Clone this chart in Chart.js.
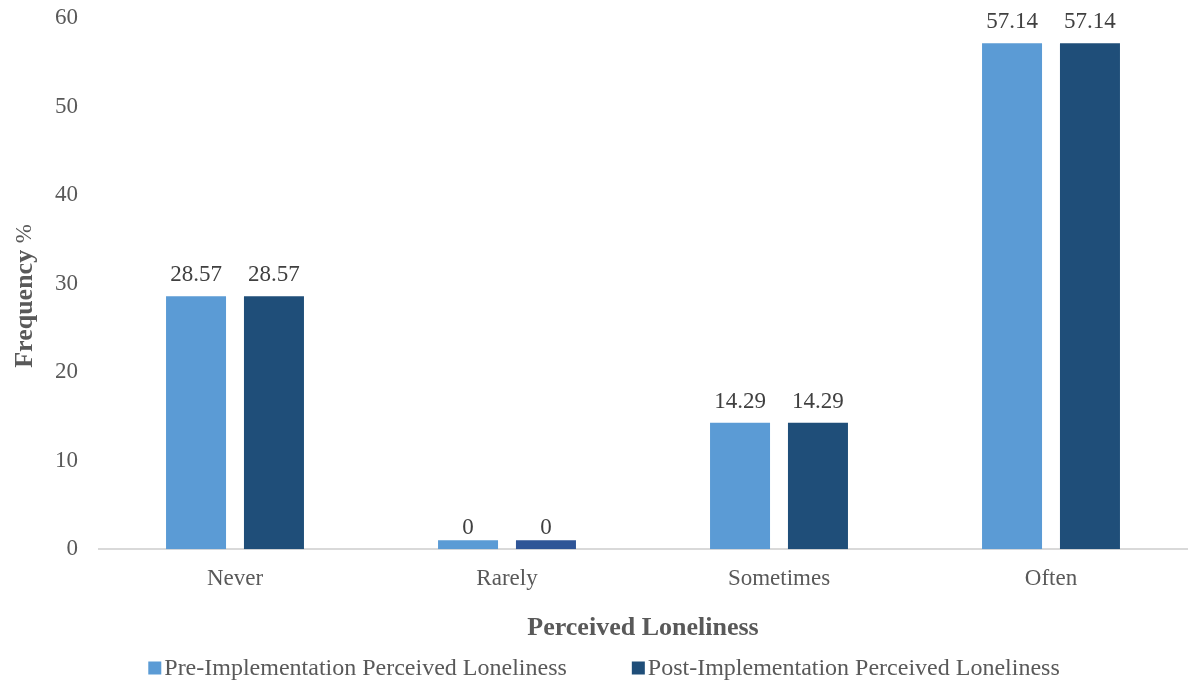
<!DOCTYPE html>
<html>
<head>
<meta charset="utf-8">
<script src="https://cdn.jsdelivr.net/npm/chart.js@4/dist/chart.umd.min.js"></script>
<style>
  body { margin: 0; background: #fff; }
  #wrap { width: 1188px; height: 686px; }
</style>
</head>
<body>
<div id="wrap"><canvas id="lonelinessChart" width="1188" height="686"></canvas></div>
<script>
const categories = ['Never', 'Rarely', 'Sometimes', 'Often'];
const preValues = [28.57, 0, 14.29, 57.14];
const postValues = [28.57, 0, 14.29, 57.14];
const yTicks = [0, 10, 20, 30, 40, 50, 60];

const FONT = "'Liberation Serif', 'Times New Roman', serif";
const GREY = '#595959';
const PRE_COLOR = '#5B9BD5';
const POST_COLOR = '#1F4E79';

// value labels above each bar, placed from the value itself
const barValues = {
    id: 'barValues',
    afterDatasetsDraw(chart) {
        const ctx = chart.ctx;
        const yScale = chart.scales.y;
        ctx.save();
        ctx.font = '23px ' + FONT;
        ctx.fillStyle = '#404040';
        ctx.textAlign = 'center';
        ctx.textBaseline = 'alphabetic';
        chart.data.datasets.forEach((ds, i) => {
            chart.getDatasetMeta(i).data.forEach((bar, j) => {
                const y = yScale.getPixelForValue(ds.data[j]);
                ctx.fillText(String(ds.data[j]), bar.x, y - 15);
            });
        });
        ctx.restore();
    }
};

// y title: bold "Frequency" followed by a regular "%"
const yTitle = {
    id: 'yTitle',
    afterDraw(chart) {
        const ctx = chart.ctx;
        const boldFont = 'bold 26px ' + FONT;
        const normFont = '23px ' + FONT;
        ctx.save();
        ctx.font = boldFont;
        const w1 = ctx.measureText('Frequency ').width;
        ctx.font = normFont;
        const w2 = ctx.measureText('%').width;
        const total = w1 + w2;
        ctx.translate(25, 296);
        ctx.rotate(-Math.PI / 2);
        ctx.textBaseline = 'middle';
        ctx.textAlign = 'left';
        ctx.fillStyle = GREY;
        ctx.font = boldFont;
        ctx.fillText('Frequency ', -total / 2, 0);
        ctx.font = normFont;
        ctx.fillText('%', -total / 2 + w1, 0);
        ctx.restore();
    }
};

// legend row along the bottom: small square, tight gap, then the label
const bottomLegend = {
    id: 'bottomLegend',
    afterDraw(chart) {
        const ctx = chart.ctx;
        const box = 13, gap = 3, itemGap = 65, y = 668;
        const items = chart.data.datasets.map((ds, i) => ({
            text: ds.label,
            color: i === 0 ? PRE_COLOR : POST_COLOR
        }));
        ctx.save();
        ctx.font = '24px ' + FONT;
        ctx.textBaseline = 'middle';
        ctx.textAlign = 'left';
        const widths = items.map(it => box + gap + ctx.measureText(it.text).width);
        const total = widths.reduce((a, b) => a + b, 0) + itemGap * (items.length - 1);
        let x = chart.width / 2 + 10 - total / 2;
        items.forEach((it, i) => {
            ctx.fillStyle = it.color;
            ctx.fillRect(x, y - box / 2, box, box);
            ctx.fillStyle = GREY;
            ctx.fillText(it.text, x + box + gap, y + 1);
            x += widths[i] + itemGap;
        });
        ctx.restore();
    }
};

new Chart(document.getElementById('lonelinessChart'), {
    type: 'bar',
    data: {
        labels: categories,
        datasets: [{
            label: 'Pre-Implementation Perceived Loneliness',
            data: preValues,
            backgroundColor: PRE_COLOR,
            barPercentage: 0.77,
            categoryPercentage: 0.573,
            minBarLength: 9
        }, {
            label: 'Post-Implementation Perceived Loneliness',
            data: postValues,
            backgroundColor: [POST_COLOR, '#2F5597', POST_COLOR, POST_COLOR],
            barPercentage: 0.77,
            categoryPercentage: 0.573,
            minBarLength: 9
        }]
    },
    options: {
        responsive: false,
        animation: false,
        layout: { padding: { left: 34, top: 0, right: 1, bottom: 42 } },
        plugins: {
            legend: { display: false },
            tooltip: { enabled: false }
        },
        scales: {
            x: {
                grid: { display: false, drawTicks: false },
                border: { color: '#D9D9D9', width: 2 },
                ticks: {
                    color: GREY,
                    font: { family: FONT, size: 23 },
                    padding: 16
                },
                title: {
                    display: true,
                    text: 'Perceived Loneliness',
                    color: GREY,
                    font: { family: FONT, size: 26, weight: 'bold' },
                    padding: { top: 4, bottom: 0 }
                }
            },
            y: {
                min: 0,
                max: 60,
                afterBuildTicks(scale) {
                    scale.ticks = yTicks.map(v => ({ value: v }));
                },
                // only half a label of room above the top tick
                afterFit(scale) {
                    scale.paddingTop = 18;
                    scale.paddingBottom = 0;
                },
                grid: { display: false, drawTicks: false },
                border: { display: false },
                ticks: {
                    color: GREY,
                    font: { family: FONT, size: 23 },
                    padding: 21
                }
            }
        }
    },
    plugins: [barValues, yTitle, bottomLegend]
});
</script>
</body>
</html>
